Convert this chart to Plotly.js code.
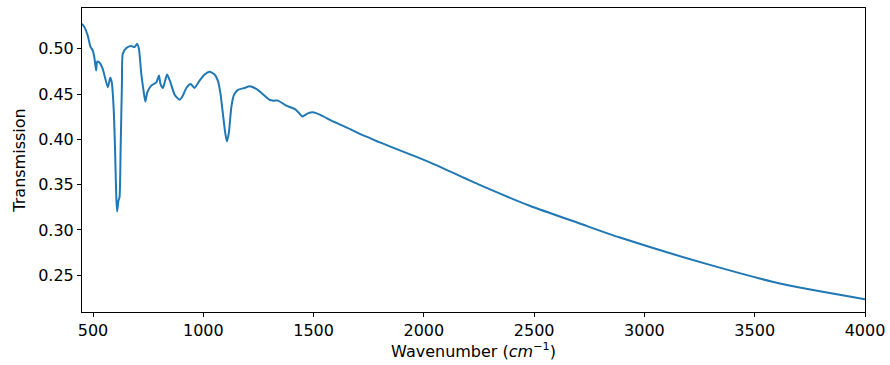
<!DOCTYPE html>
<html>
<head>
<meta charset="utf-8">
<script src="https://cdn.plot.ly/plotly-3.0.1.min.js"></script>
<style>html,body{margin:0;padding:0;background:#fff;}#chart{width:890px;height:365px;}</style>
</head>
<body>
<div id="chart"></div>
<script>
const wavenumber = [450,461,476,488,499,507,514,519,529,544,567,578,585,594,600,605,609,615,620,625,631,635,650,673,688,700,708,719,729,737,746,764,787,799,806,817,827,836,851,870,892,907,923,942,960,983,1006,1028,1051,1066,1078,1089,1100,1107,1116,1127,1139,1157,1187,1210,1240,1278,1301,1320,1338,1376,1414,1434,1449,1474,1497,1528,1588,1649,1717,1754,1800,2027,2253,2480,2707,2889,3297,3630,4000];
const transmission = [0.5277,0.524,0.5147,0.5025,0.498,0.489,0.476,0.486,0.485,0.478,0.4575,0.468,0.463,0.432,0.3875,0.340,0.3204,0.332,0.336,0.3875,0.461,0.4945,0.5007,0.503,0.502,0.5055,0.500,0.472,0.4539,0.4417,0.452,0.4594,0.463,0.4705,0.461,0.4568,0.465,0.4716,0.463,0.4494,0.4439,0.4483,0.4568,0.4613,0.4568,0.4649,0.4716,0.4746,0.4716,0.4649,0.4502,0.428,0.406,0.3978,0.4078,0.4354,0.4491,0.4546,0.4568,0.4586,0.4558,0.4483,0.4436,0.4428,0.4428,0.4373,0.4336,0.4292,0.4254,0.4288,0.4299,0.4273,0.4199,0.4133,0.4052,0.4016,0.3967,0.3746,0.3498,0.3267,0.3071,0.2916,0.2614,0.24,0.2235];

const trace = {
  x: wavenumber, y: transmission, type: 'scatter', mode: 'lines',
  line: {color: '#1f77b4', width: 2, shape: 'spline', smoothing: 0.6},
  hoverinfo: 'skip'
};
const FS = 16;
const axisCommon = {
  showgrid: false, zeroline: false, showline: true, mirror: true,
  linecolor: '#000', linewidth: 1, ticks: 'outside', ticklen: 4, tickcolor: '#000',
  tickfont: {family: 'DejaVu Sans', size: FS, color: '#000'}
};
const layout = {
  width: 890, height: 365,
  margin: {l: 82, r: 25, t: 8, b: 53},
  paper_bgcolor: '#fff', plot_bgcolor: '#fff',
  showlegend: false,
  font: {family: 'DejaVu Sans', color: '#000'},
  xaxis: Object.assign({}, axisCommon, {
    range: [450, 4000], tick0: 500, dtick: 500,
    title: {text: 'Wavenumber (<i>cm</i><sup>−1</sup>)', font: {family: 'DejaVu Sans', size: FS, color: '#000'}, standoff: 4}
  }),
  yaxis: Object.assign({}, axisCommon, {
    range: [0.2094, 0.5451], tick0: 0.25, dtick: 0.05, tickformat: '.2f',
    title: {text: 'Transmission', font: {family: 'DejaVu Sans', size: FS, color: '#000'}, standoff: 8}
  })
};
Plotly.newPlot('chart', [trace], layout, {displayModeBar: false, staticPlot: true});
</script>
</body>
</html>
